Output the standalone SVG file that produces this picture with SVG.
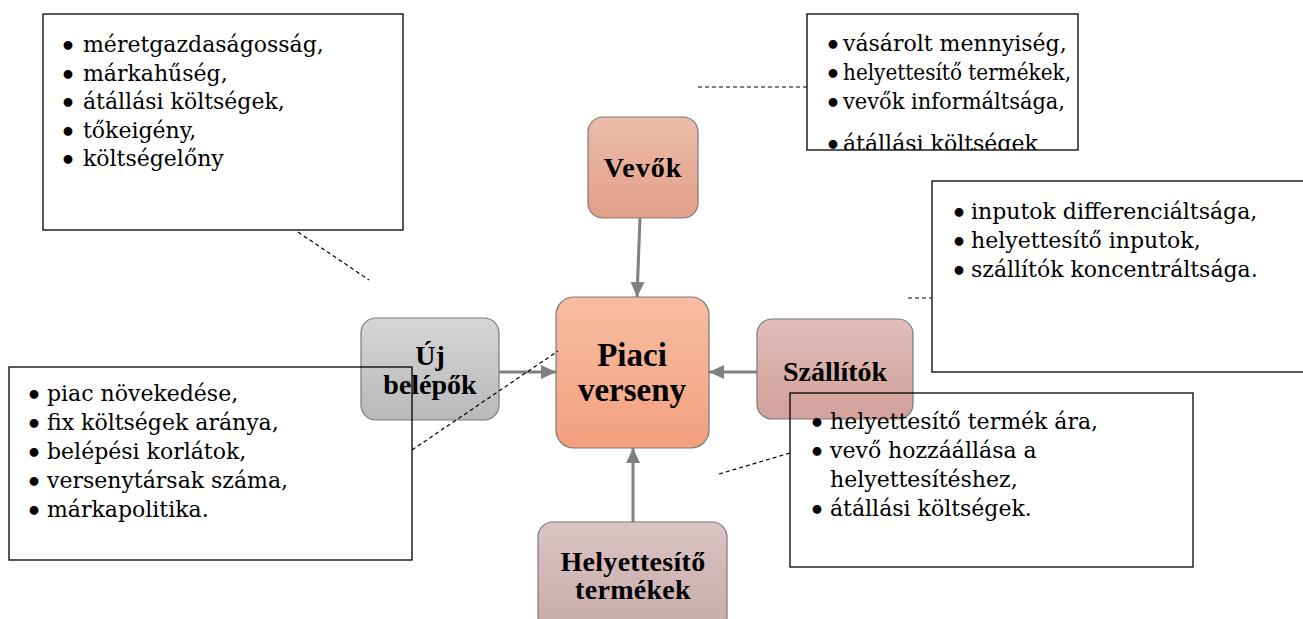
<svg xmlns="http://www.w3.org/2000/svg" width="1303" height="619" viewBox="0 0 1303 619">
<style>
.node{stroke:#7a7a7a;stroke-width:1.2}
.lbl{font-family:"Liberation Serif","Times New Roman",serif;font-weight:bold;fill:#000;text-anchor:middle}
.box{fill:none;stroke:#000;stroke-width:1.3}
.bt{font-family:"DejaVu Serif","Liberation Serif",serif;font-size:22px;fill:#000}
.bu{font-family:"DejaVu Sans","Liberation Sans",sans-serif;font-size:25px;font-weight:bold;fill:#000}
.dash{stroke:#000;stroke-width:1.2;stroke-dasharray:4 3;fill:none}
.arr{stroke:#808080;stroke-width:3;fill:none;marker-end:url(#ah)}
</style>
<defs>
<marker id="ah" markerUnits="userSpaceOnUse" markerWidth="16" markerHeight="14" refX="15" refY="7" orient="auto">
<path d="M0,0 L15,7 L0,14 Z" fill="#808080"/>
</marker>
<linearGradient id="gVev" x1="0" y1="0" x2="0" y2="1"><stop offset="0" stop-color="#ecbcab"/><stop offset="1" stop-color="#e39f89"/></linearGradient>
<linearGradient id="gPia" x1="0" y1="0" x2="0" y2="1"><stop offset="0" stop-color="#f7bda3"/><stop offset="1" stop-color="#f4a07e"/></linearGradient>
<linearGradient id="gUj" x1="0" y1="0" x2="0" y2="1"><stop offset="0" stop-color="#d6d6d6"/><stop offset="1" stop-color="#b9b9b9"/></linearGradient>
<linearGradient id="gSza" x1="0" y1="0" x2="0" y2="1"><stop offset="0" stop-color="#e0beb8"/><stop offset="1" stop-color="#d2a19a"/></linearGradient>
<linearGradient id="gHely" x1="0" y1="0" x2="0" y2="1"><stop offset="0" stop-color="#dac4c4"/><stop offset="1" stop-color="#c8aaaa"/></linearGradient>
<clipPath id="clipTR"><rect x="807" y="14" width="271" height="136"/></clipPath>
</defs>

<g id="node-vevok">
<rect class="node" x="588" y="117" width="110" height="101" rx="15" fill="url(#gVev)"/>
<text class="lbl" x="643" y="177" font-size="28" letter-spacing="1">Vevők</text>
</g>
<g id="node-piaci">
<rect class="node" x="556" y="297" width="153" height="151" rx="18" fill="url(#gPia)"/>
<text class="lbl" x="632" y="366" font-size="33">Piaci</text>
<text class="lbl" x="632" y="401" font-size="33">verseny</text>
</g>
<g id="node-uj">
<rect class="node" x="361" y="318" width="138" height="102" rx="15" fill="url(#gUj)"/>
<text class="lbl" x="430" y="365" font-size="28">Új</text>
<text class="lbl" x="430" y="394" font-size="28">belépők</text>
</g>
<g id="node-szallitok">
<rect class="node" x="757" y="319" width="156" height="100" rx="15" fill="url(#gSza)"/>
<text class="lbl" x="835" y="381" font-size="28">Szállítók</text>
</g>
<g id="node-helyettesito">
<rect class="node" x="538" y="522" width="189" height="110" rx="15" fill="url(#gHely)"/>
<text class="lbl" x="633" y="571" font-size="28" letter-spacing="0.3">Helyettesítő</text>
<text class="lbl" x="633" y="599" font-size="28" letter-spacing="0.3">termékek</text>
</g>

<g id="connectors">
<line class="arr" x1="640" y1="218" x2="637" y2="297"/>
<line class="arr" x1="499" y1="372" x2="556" y2="372"/>
<line class="arr" x1="757" y1="372" x2="709" y2="372"/>
<line class="arr" x1="633" y1="522" x2="633" y2="448"/>
</g>

<g id="notes">
<g id="note-uj-top">
<rect class="box" x="43" y="14" width="360" height="216"/>
<text class="bu" x="60" y="55">•</text><text class="bt" x="83" y="52">méretgazdaságosság,</text>
<text class="bu" x="60" y="83.5">•</text><text class="bt" x="83" y="80.5">márkahűség,</text>
<text class="bu" x="60" y="112">•</text><text class="bt" x="83" y="109">átállási költségek,</text>
<text class="bu" x="60" y="140.5">•</text><text class="bt" x="83" y="137.5">tőkeigény,</text>
<text class="bu" x="60" y="169">•</text><text class="bt" x="83" y="166">költségelőny</text>
<line class="dash" x1="298" y1="232" x2="369" y2="280"/>
</g>
<g id="note-vevok">
<rect class="box" x="807" y="14" width="271" height="136"/>
<g clip-path="url(#clipTR)">
<text class="bu" x="825" y="54">•</text><text class="bt" x="843" y="51">vásárolt mennyiség,</text>
<text class="bu" x="825" y="83">•</text><text class="bt" x="843" y="80" textLength="228" lengthAdjust="spacingAndGlyphs">helyettesítő termékek,</text>
<text class="bu" x="825" y="112">•</text><text class="bt" x="843" y="109" textLength="222" lengthAdjust="spacingAndGlyphs">vevők informáltsága,</text>
<text class="bu" x="825" y="154">•</text><text class="bt" x="843" y="151">átállási költségek</text>
</g>
<line class="dash" x1="698" y1="87" x2="807" y2="87"/>
</g>
<g id="note-szallitok">
<rect class="box" x="932" y="181" width="380" height="191"/>
<text class="bu" x="951" y="222">•</text><text class="bt" x="971" y="219">inputok differenciáltsága,</text>
<text class="bu" x="951" y="251">•</text><text class="bt" x="971" y="248">helyettesítő inputok,</text>
<text class="bu" x="951" y="280">•</text><text class="bt" x="971" y="277">szállítók koncentráltsága.</text>
<line class="dash" x1="908" y1="298" x2="932" y2="298"/>
</g>
<g id="note-uj-bottom">
<rect class="box" x="9" y="367" width="403" height="193"/>
<text class="bu" x="26" y="404">•</text><text class="bt" x="47" y="401">piac növekedése,</text>
<text class="bu" x="26" y="433">•</text><text class="bt" x="47" y="430">fix költségek aránya,</text>
<text class="bu" x="26" y="462">•</text><text class="bt" x="47" y="459">belépési korlátok,</text>
<text class="bu" x="26" y="491">•</text><text class="bt" x="47" y="488">versenytársak száma,</text>
<text class="bu" x="26" y="520">•</text><text class="bt" x="47" y="517">márkapolitika.</text>
<line class="dash" x1="412" y1="450" x2="558" y2="351"/>
</g>
<g id="note-helyettesito">
<rect class="box" x="790" y="393" width="403" height="174"/>
<text class="bu" x="809" y="432">•</text><text class="bt" x="830" y="429">helyettesítő termék ára,</text>
<text class="bu" x="809" y="461">•</text><text class="bt" x="830" y="458">vevő hozzáállása a</text>
<text class="bt" x="830" y="487">helyettesítéshez,</text>
<text class="bu" x="809" y="519">•</text><text class="bt" x="830" y="516">átállási költségek.</text>
<line class="dash" x1="719" y1="474" x2="790" y2="453"/>
</g>
</g>
</svg>
